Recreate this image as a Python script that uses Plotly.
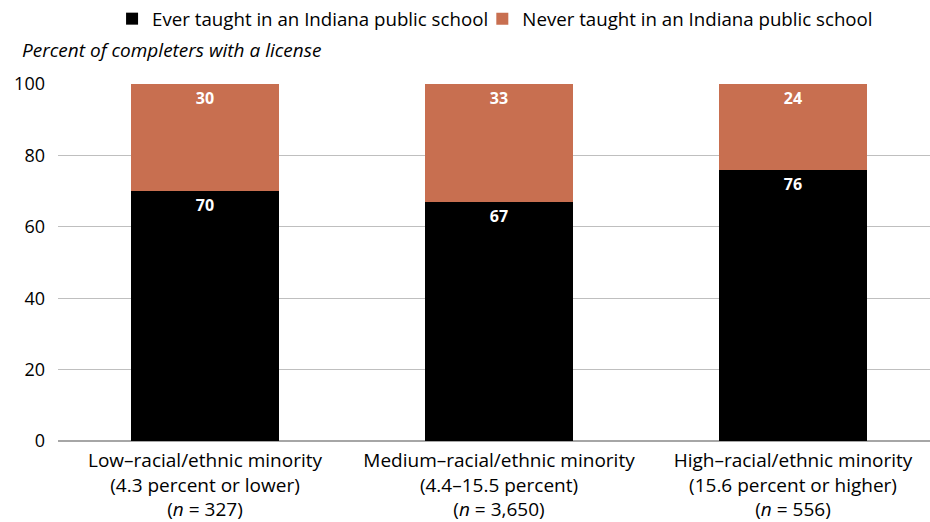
import plotly.graph_objects as go

categories = [
    "Low–racial/ethnic minority<br>(4.3 percent or lower)<br>(<i>n</i> = 327)",
    "Medium–racial/ethnic minority<br>(4.4–15.5 percent)<br>(<i>n</i> = 3,650)",
    "High–racial/ethnic minority<br>(15.6 percent or higher)<br>(<i>n</i> = 556)",
]
ever_taught = [70, 67, 76]
never_taught = [30, 33, 24]
y_ticks = [0, 20, 40, 60, 80, 100]

BLACK = "#000000"
ORANGE = "#C86F50"
BODY_FONT = "Open Sans, Noto Sans, sans-serif"

x_pos = list(range(len(categories)))

fig = go.Figure()
for vals, name, color, leg in [
    (ever_taught, "Ever taught in an Indiana public school", BLACK, "legend"),
    (never_taught, "Never taught in an Indiana public school", ORANGE, "legend2"),
]:
    fig.add_trace(go.Bar(
        x=x_pos, y=vals, name=name, legend=leg,
        marker=dict(color=color, line=dict(width=0)),
        text=[str(v) for v in vals], textposition="inside",
        insidetextanchor="end",
        textfont=dict(color="white", size=16, family=BODY_FONT, weight="bold"),
        width=0.503,
    ))

legend_style = dict(
    orientation="h", xanchor="left", y=1.0, yanchor="top", yref="container",
    font=dict(family=BODY_FONT, size=18.7, color="black"),
    itemsizing="constant", itemwidth=30, bgcolor="rgba(0,0,0,0)",
)

fig.update_layout(
    barmode="stack",
    width=930, height=522,
    margin=dict(l=58, r=0, t=84, b=81),
    paper_bgcolor="white", plot_bgcolor="white",
    showlegend=True,
    legend=dict(x=0.062, **legend_style),
    legend2=dict(x=0.4866, **legend_style),
    uniformtext=dict(minsize=8, mode="show"),
    annotations=[dict(
        text="<i>Percent of completers with a license</i>",
        xref="paper", yref="paper", x=-38 / 872, y=1 + 34 / 357,
        xanchor="left", yanchor="middle", showarrow=False,
        font=dict(family=BODY_FONT, size=19, color="black"),
    )],
)
fig.update_xaxes(
    range=[-0.5, 2.466], tickvals=x_pos, ticktext=categories,
    tickfont=dict(family=BODY_FONT, size=19, color="black"),
    showgrid=False, zeroline=False, ticks="", ticklabelstandoff=6,
    automargin=False,
)
fig.update_yaxes(
    range=[0, 100], tickvals=y_ticks, ticktext=[str(t) for t in y_ticks],
    tickfont=dict(family=BODY_FONT, size=18, color="black"),
    showgrid=True, gridcolor="#BFBFBF", gridwidth=1,
    zeroline=True, zerolinecolor="#A6A6A6", zerolinewidth=2,
    ticks="", ticklabelstandoff=12, automargin=False,
)

fig.write_html("out.html")
